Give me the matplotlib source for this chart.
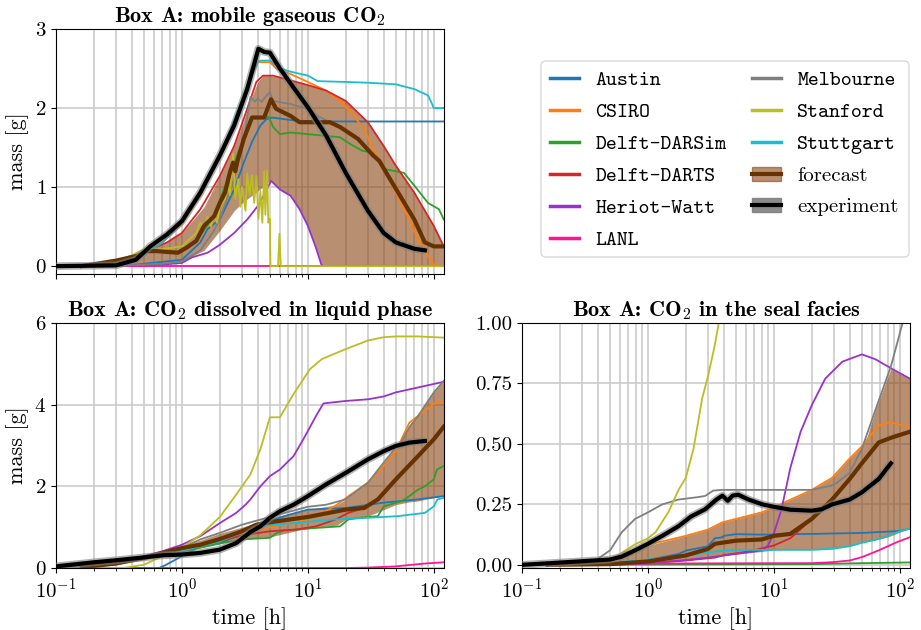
import matplotlib
matplotlib.use('Agg')
import matplotlib.pyplot as plt
from matplotlib.lines import Line2D
from matplotlib.patches import Patch, FancyBboxPatch
from matplotlib.transforms import IdentityTransform
from matplotlib.ticker import FormatStrFormatter

plt.rcParams['font.family'] = 'serif'
plt.rcParams['font.serif'] = ['cmr10']
plt.rcParams['mathtext.fontset'] = 'cm'
plt.rcParams['axes.formatter.use_mathtext'] = True

teams = ['Austin', 'CSIRO', 'Delft-DARSim', 'Delft-DARTS', 'Heriot-Watt', 'LANL',
         'Melbourne', 'Stanford', 'Stuttgart']
team_colors = ['#1f77b4', '#ff7f0e', '#2ca02c', '#d62728', '#9932cc', '#ff1493',
               '#7f7f7f', '#bcbd22', '#17becf']

# ---- Box A: mobile gaseous CO2 (t [h], mass [g]) ----
gas_austin = [(0.1, 0), (0.27, 0), (0.43, 0.02), (0.76, 0.06), (1, 0.08), (1.4, 0.30), (1.6, 0.47),
              (2, 0.59), (2.6, 0.97), (3.1, 1.31), (3.6, 1.57), (4.2, 1.78), (4.7, 1.86), (5.2, 1.88),
              (8, 1.84), (15, 1.83), (120, 1.83)]
gas_csiro = [(0.1, 0), (0.16, 0), (0.3, 0.06), (0.5, 0.17), (0.7, 0.3), (1, 0.53), (1.4, 0.89), (2, 1.37),
             (2.6, 1.78), (3.3, 2.26), (4, 2.58), (5, 2.58), (5.6, 2.50), (7.3, 2.43), (10, 2.33),
             (14, 2.22), (18, 2.09), (22, 1.95), (28, 1.73), (33, 1.48), (40, 1.23), (50, 0.93),
             (60, 0.68), (77, 0.30), (90, 0.13), (100, 0.02), (110, 0), (120, 0)]
gas_darsim = [(0.1, 0), (0.16, 0), (0.3, 0.07), (0.52, 0.19), (0.93, 0.17), (1.3, 0.32), (1.8, 0.63),
              (2.4, 1.18), (3.1, 1.61), (3.6, 1.88), (4.5, 1.88), (4.9, 1.89),
              (5.3, 1.76), (6, 1.67), (7.3, 1.69), (10, 1.67), (18, 1.63), (22, 1.54), (27, 1.46),
              (33, 1.43), (40, 1.23), (58, 1.18), (70, 1.02), (90, 0.80), (110, 0.72), (120, 0.59)]
gas_darts = [(0.1, 0), (0.16, 0), (0.3, 0.05), (0.56, 0.21), (0.76, 0.3), (1, 0.42), (1.4, 0.72), (2, 1.14),
             (2.6, 1.52), (3.3, 1.99), (3.9, 2.33), (4.4, 2.41), (5.3, 2.41), (7.3, 2.35), (10, 2.29),
             (14, 2.22), (20, 2.09), (30, 1.82), (40, 1.52), (50, 1.27), (70, 0.93), (100, 0.51),
             (120, 0.25)]
gas_hw = [(0.1, 0), (0.5, 0), (0.7, 0.02), (1, 0.04), (1.2, 0.11), (1.6, 0.17), (2, 0.27), (2.6, 0.42),
          (3.3, 0.59), (4, 0.76), (4.6, 0.93), (5.1, 1.08), (6, 0.97), (7.3, 0.89), (8.6, 0.72),
          (10, 0.51), (11.5, 0.25), (12.8, 0.02), (13.2, 0), (120, 0)]
gas_lanl = [(0.1, 0), (120, 0)]
gas_melb = [(0.1, 0), (0.3, 0), (0.5, 0.02), (0.7, 0.03), (1, 0.06), (1.4, 0.2), (1.8, 0.45), (2, 0.6),
            (2.6, 1.1), (3.1, 1.6), (3.5, 2.14), (3.8, 2.08), (4, 2.12), (4.3, 2.08), (4.6, 2.14),
            (5, 2.20), (5.3, 2.09), (7.3, 2.05), (10, 1.99), (12, 1.90), (15, 1.82)]
gas_stanford = [(0.1, 0), (0.3, 0.02), (0.45, 0.18), (0.56, 0.24), (0.6, 0.2), (1, 0.25), (1.3, 0.42),
                (1.4, 0.55), (1.5, 0.48), (1.6, 0.62), (1.7, 0.5), (1.8, 0.65), (1.9, 0.55), (2.0, 0.75),
                (2.2, 0.85), (2.3, 1.05), (2.4, 0.9), (2.55, 1.42), (2.65, 0.85), (2.8, 1.1), (2.9, 0.75),
                (3.0, 1.0), (3.2, 0.7), (3.3, 1.17), (3.45, 0.9), (3.6, 1.15), (3.75, 0.8), (3.9, 1.14),
                (4.05, 0.6), (4.2, 0.95), (4.35, 0.55), (4.5, 1.2), (4.6, 0.65), (4.75, 1.21),
                (4.85, 0.55), (5.0, 0.6), (5.05, 0), (5.8, 0), (5.95, 0.41), (6.1, 0), (120, 0)]
gas_stuttgart = [(0.1, 0), (0.16, 0), (0.3, 0.04), (0.5, 0.14), (0.7, 0.3), (1, 0.55), (1.4, 0.91),
                 (2, 1.40), (2.6, 1.85), (3.3, 2.28), (4, 2.58), (4.2, 2.60), (5, 2.60), (6, 2.50),
                 (7.3, 2.46), (10, 2.41), (12, 2.34), (20, 2.33), (30, 2.32), (50, 2.30), (70, 2.24),
                 (90, 2.16), (97, 2.05), (100, 2.0), (120, 2.0)]
gas_forecast = [(0.16, 0), (0.3, 0.07), (0.47, 0.14), (0.52, 0.19), (0.63, 0.19), (0.93, 0.17),
                (1.08, 0.23), (1.3, 0.32), (1.5, 0.51), (1.8, 0.63), (2, 0.80), (2.2, 0.93), (2.4, 1.18),
                (2.55, 1.31), (2.65, 1.2), (2.75, 1.32), (3.1, 1.61), (3.6, 1.88), (4.5, 1.88),
                (5.1, 2.11), (5.6, 1.99), (7.3, 1.90), (8.6, 1.82), (15, 1.82), (18, 1.76), (25, 1.61),
                (33, 1.40), (37, 1.33), (42, 1.18), (54, 0.89), (70, 0.59), (85, 0.30), (100, 0.25),
                (120, 0.25)]
gas_exp = [(0.1, 0), (0.3, 0.01), (0.43, 0.08), (0.56, 0.25), (0.76, 0.40), (1.0, 0.57), (1.4, 0.93),
           (2, 1.40), (2.6, 1.78), (3.3, 2.24), (4.05, 2.75), (4.5, 2.71), (5, 2.70), (6, 2.50),
           (7.3, 2.31), (10, 2.01), (14, 1.65), (20, 1.18), (30, 0.70), (40, 0.42), (50, 0.30),
           (70, 0.22), (85, 0.20)]
gas_band_t = [0.16, 0.3, 0.5, 0.7, 1, 1.5, 2, 2.6, 3, 3.5, 4, 4.4, 5, 6, 7.3, 8.6, 10, 11.5, 13, 20, 30,
              40, 50, 70, 100, 120]
gas_band_lo = [0, 0.02, 0.04, 0.04, 0.06, 0.2, 0.45, 0.7, 0.8, 0.88, 0.95, 1.0, 1.08, 0.97, 0.89, 0.72,
               0.51, 0.25, 0.0, 0, 0, 0, 0, 0, 0, 0]
gas_band_hi = [0, 0.05, 0.17, 0.28, 0.42, 0.75, 1.14, 1.52, 1.78, 2.1, 2.33, 2.41, 2.41, 2.39, 2.35, 2.32,
               2.29, 2.26, 2.24, 2.09, 1.82, 1.52, 1.27, 0.93, 0.51, 0.25]

# ---- Box A: CO2 dissolved in liquid phase ----
dis_austin = [(0.1, 0), (0.66, 0), (0.75, 0.08), (1, 0.29), (1.4, 0.53), (2, 0.61), (2.7, 0.78),
              (3.5, 0.95), (5, 1.15), (7, 1.3), (10, 1.43), (20, 1.47), (40, 1.60), (75, 1.68), (120, 1.76)]
dis_csiro = [(0.1, 0), (0.16, 0.01), (0.3, 0.1), (0.5, 0.24), (1, 0.42), (2, 0.68), (3, 0.85), (5, 1.0),
             (10, 1.2), (15, 1.45), (17, 1.55), (21, 1.76), (30, 2.09), (40, 2.50), (50, 2.86),
             (64, 3.56), (85, 3.85), (100, 4.03), (120, 4.05)]
dis_darsim = [(0.1, 0), (0.16, 0.01), (0.3, 0.1), (0.5, 0.24), (1, 0.4), (2, 0.6), (3, 0.70), (5, 0.74),
              (5.7, 0.86), (6.5, 0.92), (11.6, 0.98), (18, 1.02), (21, 1.19), (26, 1.23), (36, 1.27),
              (40, 1.51), (56, 1.64), (64, 1.76), (75, 1.92), (85, 2.0), (100, 2.17), (106, 2.41),
              (120, 2.50)]
dis_darts = [(0.1, 0), (0.16, 0.01), (0.3, 0.1), (0.5, 0.24), (1, 0.42), (2, 0.65), (3, 0.8), (5, 0.9),
             (8, 0.94), (11.6, 1.02), (16.7, 1.19), (21, 1.35), (28, 1.47), (36, 1.68), (50, 2.17),
             (75, 2.74), (100, 3.15), (120, 3.46)]
dis_hw = [(0.1, 0), (0.2, 0.04), (0.3, 0.1), (0.5, 0.29), (0.7, 0.41), (1, 0.57), (1.4, 0.78), (2, 1.10),
          (2.7, 1.35), (3.2, 1.55), (3.5, 1.68), (4.2, 2.0), (5, 2.25), (6, 2.41), (7.7, 2.74),
          (9.2, 3.15), (11.6, 3.72), (13.3, 4.03), (20, 4.09), (30, 4.13), (40, 4.2), (50, 4.30),
          (75, 4.42), (120, 4.56)]
dis_lanl = [(0.1, 0), (20, 0.0), (30, 0.01), (50, 0.04), (85, 0.11), (120, 0.14)]
dis_melb = [(0.1, 0), (0.3, 0.1), (0.5, 0.26), (1, 0.5), (1.4, 0.70), (2, 0.86), (3, 1.06), (5, 1.25),
            (10, 1.5), (14, 1.55), (20, 1.68), (30, 2.09), (40, 2.58), (50, 2.95), (55, 3.07),
            (64, 3.45), (75, 3.72), (100, 4.3), (120, 4.58)]
dis_stanford = [(0.1, 0), (0.34, 0), (0.5, 0.08), (0.7, 0.29), (1, 0.5), (1.4, 0.8), (2, 1.25), (2.7, 1.8),
                (3.5, 2.29), (4.2, 2.91), (5, 3.69), (6, 3.69), (7.7, 4.26), (10.4, 4.87), (13, 5.12),
                (20, 5.36), (30, 5.57), (40, 5.65), (50, 5.67), (75, 5.67), (120, 5.64)]
dis_stuttgart = [(0.1, 0), (0.16, 0.01), (0.3, 0.1), (0.5, 0.24), (1, 0.42), (2, 0.65), (3.5, 0.95),
                 (5, 1.05), (7.7, 1.10), (16, 1.19), (30, 1.23), (52, 1.27), (85, 1.35), (100, 1.51),
                 (107, 1.68), (120, 1.72)]
dis_forecast = [(0.16, 0.02), (0.3, 0.11), (0.5, 0.25), (0.7, 0.37), (1, 0.49), (1.4, 0.57), (2, 0.71),
                (3, 0.90), (3.9, 1.06), (5, 1.12), (10, 1.25), (20, 1.43), (28, 1.47), (36, 1.68),
                (50, 2.17), (75, 2.74), (100, 3.15), (120, 3.46)]
dis_exp = [(0.1, 0.04), (0.2, 0.14), (0.3, 0.19), (0.5, 0.26), (0.7, 0.31), (1, 0.33), (1.4, 0.37),
           (2, 0.45), (2.7, 0.61), (3.5, 0.88), (4.2, 1.02), (5, 1.23), (6, 1.39), (7.7, 1.55),
           (10, 1.76), (14, 2.05), (20, 2.33), (30, 2.66), (40, 2.86), (50, 2.99), (64, 3.07), (85, 3.11)]
dis_band_t = [0.16, 0.3, 0.5, 0.7, 1, 1.4, 2, 3, 3.5, 5, 10, 17, 20, 30, 40, 50, 64, 75, 85, 100, 120]
dis_band_lo = [0.01, 0.08, 0.2, 0.3, 0.38, 0.5, 0.6, 0.7, 0.74, 0.76, 0.98, 1.05, 1.19, 1.27, 1.43, 1.55,
               1.62, 1.64, 1.68, 1.72, 1.76]
dis_band_hi = [0.03, 0.14, 0.3, 0.42, 0.55, 0.68, 0.85, 1.0, 1.06, 1.23, 1.43, 1.55, 1.68, 2.09, 2.58,
               2.95, 3.5, 3.75, 4.0, 4.3, 4.58]

# ---- Box A: CO2 in the seal facies ----
seal_austin = [(0.1, 0), (0.5, 0.005), (1, 0.02), (1.75, 0.045), (2, 0.059), (3, 0.077), (3.4, 0.11),
               (3.9, 0.114), (4, 0.12), (5, 0.127), (8, 0.125), (20, 0.128), (50, 0.132), (100, 0.14),
               (120, 0.149)]
seal_csiro = [(0.1, 0), (0.3, 0.01), (0.5, 0.025), (0.62, 0.045), (1, 0.083), (2, 0.12), (3, 0.146),
              (3.9, 0.176), (5, 0.19), (8, 0.217), (10, 0.238), (20, 0.31), (29, 0.36), (40, 0.44),
              (50, 0.49), (68, 0.575), (83, 0.59), (100, 0.58), (120, 0.57)]
seal_darsim = [(0.1, 0), (20, 0.003), (50, 0.007), (120, 0.01)]
seal_darts = [(0.1, 0), (1, 0.008), (2, 0.018), (3.4, 0.03), (4, 0.04), (6.3, 0.055), (10, 0.08),
              (13.5, 0.11), (15, 0.13), (20, 0.19), (29, 0.27), (40, 0.355), (50, 0.42), (68, 0.506),
              (87, 0.527), (120, 0.55)]
seal_hw = [(0.1, 0), (0.5, 0), (1, 0.005), (2, 0.02), (3, 0.03), (5, 0.045), (8, 0.06), (9, 0.08),
           (10, 0.13), (11.5, 0.23), (13.5, 0.40), (16.3, 0.55), (20, 0.66), (25.6, 0.77), (35, 0.84),
           (50, 0.87), (64, 0.85), (87, 0.81), (120, 0.77)]
seal_lanl = [(0.1, 0.005), (20, 0.007), (29, 0.011), (40, 0.018), (50, 0.032), (68, 0.06), (95, 0.094),
             (120, 0.114)]
seal_melb = [(0.1, 0), (0.34, 0), (0.4, 0.025), (0.5, 0.06), (0.62, 0.135), (0.79, 0.19), (1, 0.217),
             (1.3, 0.25), (1.75, 0.27), (2.5, 0.28), (2.85, 0.285), (3.3, 0.307), (3.9, 0.31), (20, 0.31),
             (30, 0.33), (40, 0.38), (50, 0.48), (64, 0.64), (85, 0.82), (104, 0.99), (120, 1.15)]
seal_stanford = [(0.1, 0), (0.34, 0), (0.5, 0.02), (0.62, 0.05), (0.79, 0.085), (1, 0.11), (1.15, 0.135),
                 (1.46, 0.22), (1.75, 0.31), (2, 0.36), (2.3, 0.48), (2.7, 0.69), (3, 0.78), (3.4, 0.91),
                 (3.65, 1.0), (4, 1.2)]
seal_stuttgart = [(0.1, 0), (0.5, 0.008), (1, 0.022), (2, 0.038), (3, 0.052), (3.9, 0.058), (5, 0.062),
                  (20, 0.062), (29, 0.066), (40, 0.077), (50, 0.091), (68, 0.107), (95, 0.135),
                  (120, 0.151)]
seal_forecast = [(0.16, 0), (0.5, 0.003), (1, 0.014), (2, 0.039), (3, 0.066), (3.4, 0.087), (5, 0.10),
                 (8, 0.105), (10, 0.12), (13.5, 0.128), (20, 0.19), (29, 0.27), (40, 0.355), (50, 0.42),
                 (68, 0.506), (87, 0.527), (120, 0.55)]
seal_exp = [(0.1, 0), (0.5, 0.022), (0.62, 0.034), (0.79, 0.06), (1, 0.087), (1.3, 0.12), (1.75, 0.16),
            (2.2, 0.20), (2.85, 0.23), (3.5, 0.27), (3.9, 0.286), (4.3, 0.265), (4.7, 0.286), (5.2, 0.29),
            (6.3, 0.27), (8.1, 0.25), (10, 0.24), (13.5, 0.228), (20, 0.224), (24, 0.23), (29, 0.25),
            (40, 0.27), (50, 0.30), (68, 0.355), (85, 0.42)]
seal_band_t = [0.16, 0.5, 1, 2, 3, 3.9, 5, 8, 10, 20, 29, 40, 50, 55, 64, 78, 85, 100, 120]
seal_band_lo = [0.0, 0.002, 0.008, 0.018, 0.03, 0.04, 0.045, 0.055, 0.062, 0.065, 0.068, 0.08, 0.092,
                0.097, 0.103, 0.113, 0.12, 0.135, 0.151]
seal_band_hi = [0.0, 0.02, 0.08, 0.12, 0.146, 0.176, 0.19, 0.217, 0.238, 0.31, 0.36, 0.44, 0.49, 0.53,
                0.64, 0.76, 0.81, 0.79, 0.77]

FC_LINE = '#663300'
FC_FILL = 'saddlebrown'


def draw_panel(ax, series, band_t, band_lo, band_hi, forecast, exp):
    ax.fill_between(band_t, band_lo, band_hi, color=FC_FILL, alpha=0.6, lw=0, zorder=1)
    for s, c in zip(series, team_colors):
        ax.plot([p[0] for p in s], [p[1] for p in s], color=c, lw=1.3, zorder=2)
    ax.plot([p[0] for p in forecast], [p[1] for p in forecast], color=FC_LINE, lw=3, zorder=3)
    et = [p[0] for p in exp]
    ev = [p[1] for p in exp]
    ax.plot(et, ev, color='gray', lw=5.5, alpha=0.6, solid_capstyle='butt', zorder=4)
    ax.plot(et, ev, color='black', lw=3, zorder=5)
    ax.set_xscale('log')
    ax.set_xlim(0.1, 120)
    ax.set_axisbelow(True)
    ax.grid(which='major', color='#cccccc', lw=1.2)
    ax.grid(which='minor', axis='x', color='#cccccc', lw=1.2)
    ax.tick_params(labelsize=15)


fig = plt.figure(figsize=(9.21, 6.3), dpi=100)
ax1 = fig.add_axes([0.0608, 0.565, 0.421, 0.389])
ax2 = fig.add_axes([0.0608, 0.0984, 0.421, 0.389])
ax3 = fig.add_axes([0.5668, 0.0984, 0.421, 0.389])

draw_panel(ax1, [gas_austin, gas_csiro, gas_darsim, gas_darts, gas_hw, gas_lanl, gas_melb,
                 gas_stanford, gas_stuttgart], gas_band_t, gas_band_lo, gas_band_hi, gas_forecast, gas_exp)
draw_panel(ax2, [dis_austin, dis_csiro, dis_darsim, dis_darts, dis_hw, dis_lanl, dis_melb,
                 dis_stanford, dis_stuttgart], dis_band_t, dis_band_lo, dis_band_hi, dis_forecast, dis_exp)
draw_panel(ax3, [seal_austin, seal_csiro, seal_darsim, seal_darts, seal_hw, seal_lanl, seal_melb,
                 seal_stanford, seal_stuttgart], seal_band_t, seal_band_lo, seal_band_hi,
           seal_forecast, seal_exp)

ax1.set_ylim(-0.1, 3)
ax1.set_yticks([0, 1, 2, 3])
ax1.tick_params(labelbottom=False)
ax2.set_ylim(0, 6)
ax2.set_yticks([0, 2, 4, 6])
ax3.set_ylim(-0.013, 1.0)
ax3.set_yticks([0, 0.25, 0.5, 0.75, 1.0])
ax3.yaxis.set_major_formatter(FormatStrFormatter('%.2f'))

ax1.set_ylabel('mass [g]', fontsize=16)
ax2.set_ylabel('mass [g]', fontsize=16)
ax2.set_xlabel('time [h]', fontsize=16)
ax3.set_xlabel('time [h]', fontsize=16)

title_kw = dict(fontsize=16, fontfamily='cmb10', pad=5)
ax1.set_title('Box A: mobile gaseous CO$_2$', **title_kw)
ax2.set_title('Box A: CO$_2$ dissolved in liquid phase', **title_kw)
ax3.set_title('Box A: CO$_2$ in the seal facies', **title_kw)

handles = [Line2D([], [], color=c, lw=2.5) for c in team_colors]
handles.append((Patch(facecolor=FC_FILL, alpha=0.6, edgecolor=FC_FILL),
                Line2D([], [], color=FC_LINE, lw=3)))
handles.append((Patch(facecolor='gray', alpha=0.9, edgecolor='gray'),
                Line2D([], [], color='black', lw=3)))
labels = teams + ['forecast', 'experiment']

# legend frame drawn by hand (pixel box of the legend area)
frame = FancyBboxPatch((541, 630 - 257), 368, 196, boxstyle='round,pad=0,rounding_size=5',
                       transform=IdentityTransform(), facecolor='white', edgecolor='#d9d9d9', lw=1.0)
fig.add_artist(frame)
leg = fig.legend(handles, labels, ncol=2, loc='upper left', bbox_to_anchor=(0.5765, 0.918),
                 prop={'family': 'cmtt10', 'size': 15}, handlelength=1.4, columnspacing=1.2,
                 labelspacing=0.6, frameon=False)
for txt in leg.get_texts()[len(teams):]:
    txt.set_fontfamily('cmr10')

fig.savefig('out.png', dpi=100)
